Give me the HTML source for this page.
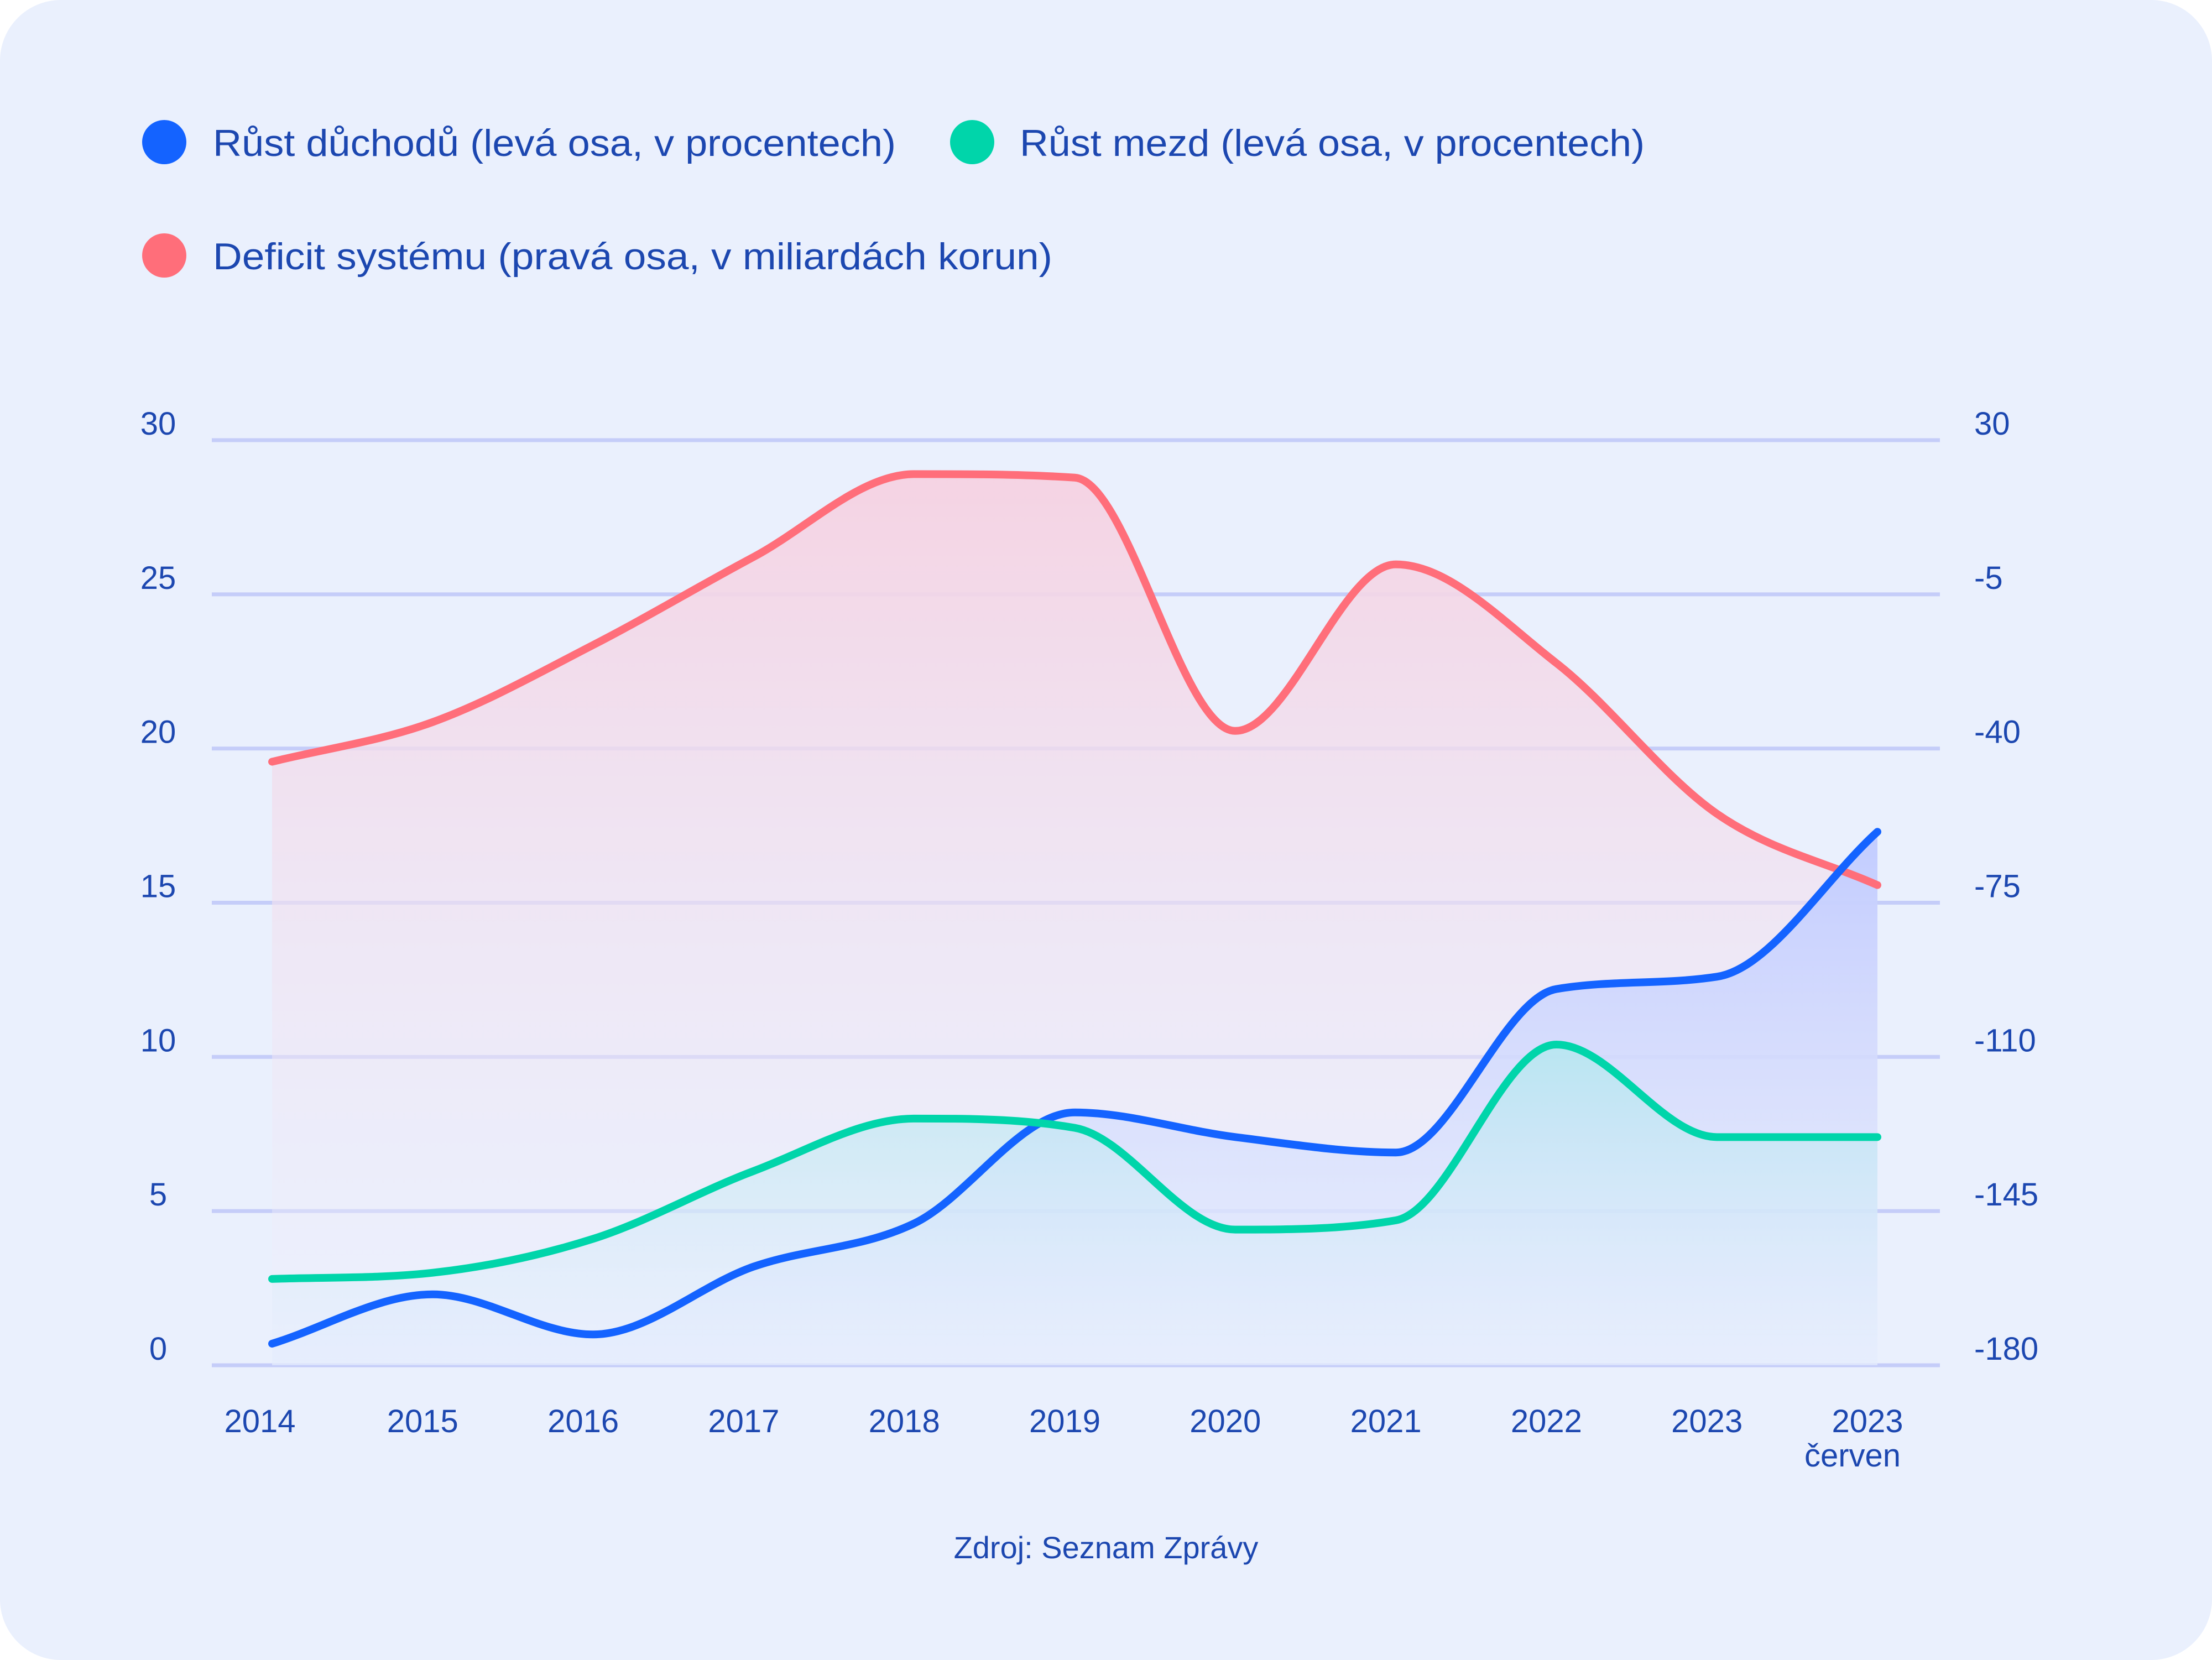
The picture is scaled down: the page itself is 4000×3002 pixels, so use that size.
<!DOCTYPE html>
<html><head><meta charset="utf-8"><style>
html,body{margin:0;padding:0;background:#fff;}
svg{display:block;font-family:"Liberation Sans",sans-serif;}
</style></head><body>
<svg id="chart" width="4000" height="3002" viewBox="0 0 4000 3002" xmlns="http://www.w3.org/2000/svg">
<defs>
<linearGradient id="gRed" x1="0" y1="0" x2="0" y2="1"><stop offset="0" stop-color="#f5d3e3"/><stop offset="1" stop-color="#edf0fd" stop-opacity="0.3"/></linearGradient>
<linearGradient id="gBlue" x1="0" y1="0" x2="0" y2="1"><stop offset="0" stop-color="#c2ccff"/><stop offset="1" stop-color="#e4ecfd" stop-opacity="0.5"/></linearGradient>
<linearGradient id="gTeal" x1="0" y1="0" x2="0" y2="1"><stop offset="0" stop-color="#b2e8ee" stop-opacity="0.8"/><stop offset="1" stop-color="#e4ecfd" stop-opacity="0.2"/></linearGradient>
</defs>
<rect x="0" y="0" width="4000" height="3002" rx="110" fill="#eaf0fd"/>
<g font-size="68" fill="#1c47b0">
<g><circle cx="297" cy="257" r="40" fill="#1463ff"/><text x="385" y="282" textLength="1235" lengthAdjust="spacingAndGlyphs">Růst důchodů (levá osa, v procentech)</text></g>
<g><circle cx="1758" cy="257" r="40" fill="#00d5aa"/><text x="1844" y="282" textLength="1130" lengthAdjust="spacingAndGlyphs">Růst mezd (levá osa, v procentech)</text></g>
<g><circle cx="297" cy="462" r="40" fill="#ff6e7a"/><text x="385" y="487" textLength="1518" lengthAdjust="spacingAndGlyphs">Deficit systému (pravá osa, v miliardách korun)</text></g>
</g>
<g id="grid"></g>
<g id="areas"></g>
<g id="lines"></g>
<g id="axes" font-size="58" fill="#1c47b0"></g>
<text x="2000" y="2818" font-size="56" fill="#1c47b0" text-anchor="middle">Zdroj: Seznam Zprávy</text>
</svg>
<script>
const categories = ["2014","2015","2016","2017","2018","2019","2020","2021","2022","2023","2023"];
const categorySub = ["","","","","","","","","","","červen"];
const pensions = [0.7,2.3,1.0,3.2,4.6,8.2,7.4,6.9,12.2,12.6,17.3];
const wages = [2.8,3.0,4.1,6.3,8.0,7.7,4.4,4.7,10.4,7.4,7.4];
const deficit = [-43,-34,-16.5,3.5,22.3,21.5,-36,1.8,-20.6,-54.8,-71];
const leftTicks = [0,5,10,15,20,25,30];
const rightTicks = [-180,-145,-110,-75,-40,-5,30];

const NS = "http://www.w3.org/2000/svg";
const X0 = 492, X1 = 3395, Y0 = 2469, Y30 = 796, GL = 383, GR = 3508;
function xs(i){ return X0 + (X1 - X0) * i / (categories.length - 1); }
function yl(v){ return Y0 - (Y0 - Y30) * v / 30; }
function yr(v){ return Y0 - (Y0 - Y30) * (v + 180) / 210; }
function mk(tag, parent){ const e = document.createElementNS(NS, tag); parent.appendChild(e); return e; }
function curve(pts){
  const n = pts.length, d = [], m = new Array(n);
  for (let i = 0; i < n - 1; i++) d.push((pts[i+1][1] - pts[i][1]) / (pts[i+1][0] - pts[i][0]));
  m[0] = d[0]; m[n-1] = d[n-2];
  for (let i = 1; i < n - 1; i++) m[i] = (d[i-1] * d[i] <= 0) ? 0 : (d[i-1] + d[i]) / 2;
  for (let i = 0; i < n - 1; i++) {
    if (d[i] === 0) { m[i] = 0; m[i+1] = 0; continue; }
    const a = m[i] / d[i], b = m[i+1] / d[i], s = a*a + b*b;
    if (s > 9) { const t = 3 / Math.sqrt(s); m[i] = t*a*d[i]; m[i+1] = t*b*d[i]; }
  }
  let p = "M" + pts[0][0] + "," + pts[0][1];
  for (let i = 0; i < n - 1; i++) {
    const h = (pts[i+1][0] - pts[i][0]) / 3;
    p += " C" + (pts[i][0] + h) + "," + (pts[i][1] + m[i]*h) + " " + (pts[i+1][0] - h) + "," + (pts[i+1][1] - m[i+1]*h) + " " + pts[i+1][0] + "," + pts[i+1][1];
  }
  return p;
}
const grid = document.getElementById("grid"), areas = document.getElementById("areas"),
      lines = document.getElementById("lines"), axes = document.getElementById("axes");
leftTicks.forEach((t, i) => {
  const y = yl(t);
  const l = mk("rect", grid);
  
  
  l.setAttribute("x", GL); l.setAttribute("y", y - 3.5); l.setAttribute("width", GR - GL); l.setAttribute("height", 7); l.setAttribute("fill", "#c5cdf9");
  const a = mk("text", axes);
  
  
  a.setAttribute("x", 286); a.setAttribute("y", y - 10); a.setAttribute("text-anchor", "middle"); a.textContent = t;
  const b = mk("text", axes);
  
  
  b.setAttribute("x", 3570); b.setAttribute("y", yr(rightTicks[i]) - 10); b.textContent = rightTicks[i];
});
categories.forEach((c, i) => {
  const t = mk("text", axes);
  
  
  t.setAttribute("x", i === 0 ? xs(i) - 22 : xs(i) - 18); t.setAttribute("y", 2590); t.setAttribute("text-anchor", "middle"); t.textContent = c;
  if (categorySub[i]) {
    const s = mk("text", axes);
    
    
    s.setAttribute("x", xs(i) - 45); s.setAttribute("y", 2652); s.setAttribute("text-anchor", "middle"); s.textContent = categorySub[i];
  }
});
function series(vals, yf, color, fill, name){
  const pts = vals.map((v, i) => [xs(i), yf(v)]);
  const d = curve(pts);
  const a = mk("path", areas);
  
  
  a.setAttribute("d", d + " L" + xs(vals.length - 1) + "," + Y0 + " L" + X0 + "," + Y0 + " Z");
  a.setAttribute("fill", fill);
  const l = mk("path", lines);
  
  
  l.setAttribute("d", d); l.setAttribute("fill", "none"); l.setAttribute("stroke", color);
  l.setAttribute("stroke-width", 14); l.setAttribute("stroke-linecap", "round"); l.setAttribute("stroke-linejoin", "round");
}
series(deficit, yr, "#ff6e7a", "url(#gRed)", "deficit");
series(pensions, yl, "#1463ff", "url(#gBlue)", "pensions");
series(wages, yl, "#00d5aa", "url(#gTeal)", "wages");
</script>
</body></html>
